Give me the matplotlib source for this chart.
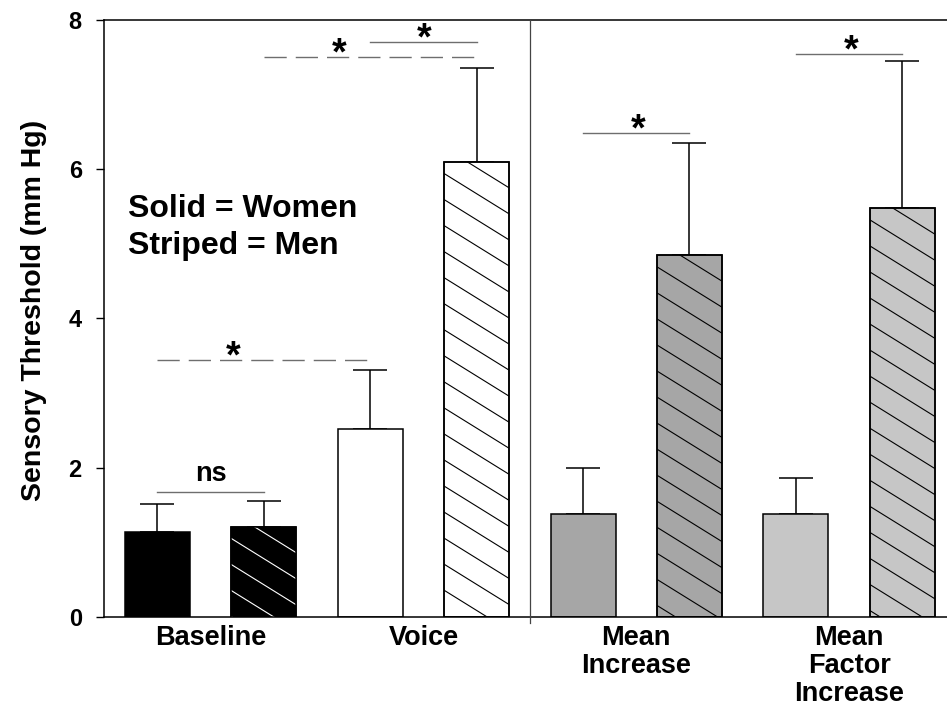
import numpy as np
import matplotlib
matplotlib.use("Agg")
import matplotlib.pyplot as plt

plt.rcParams["font.family"] = ["Liberation Sans", "DejaVu Sans"]

groups = ["Baseline", "Voice", "Mean\nIncrease", "Mean\nFactor\nIncrease"]
women_mean = [1.14, 2.52, 1.38, 1.38]
women_top = [1.51, 3.31, 2.00, 1.86]   # top of error bar
men_mean = [1.21, 6.10, 4.85, 5.48]
men_top = [1.56, 7.36, 6.35, 7.45]

women_colors = ["black", "white", "#a6a6a6", "#c6c6c6"]
men_colors = ["black", "white", "#a6a6a6", "#c6c6c6"]
hatch_colors = ["white", "black", "black", "black"]

# significance brackets: (bar from, bar to, y, label, label x, dashed)
brackets = [
    (0, 1, 1.68, "ns", 0.5, False),
    (0, 2, 3.44, "*", 0.71, True),
    (1, 3, 7.50, "*", 1.71, True),
    (2, 3, 7.71, "*", 2.51, False),
    (4, 5, 6.48, "*", 4.52, False),
    (6, 7, 7.54, "*", 6.52, False),
]


def add_hatch(ax, bar, color, spacing=0.349, slope=-0.885):
    x0, y0 = bar.get_x(), bar.get_y()
    w, h = bar.get_width(), bar.get_height()
    for c in np.arange(y0 + h + abs(slope) * w, y0 - spacing, -spacing):
        ln, = ax.plot([x0, x0 + w], [c, c + slope * w], color=color, lw=0.8,
                      zorder=3)
        ln.set_clip_path(bar)


fig = plt.figure(figsize=(9.47, 7.11), dpi=100)
ax = fig.add_axes([0.1098, 0.1322, 0.8902, 0.8397])

width = 0.61
xw = np.arange(len(groups)) * 2
xm = xw + 1

wb = ax.bar(xw, women_mean, width, color=women_colors, edgecolor="black",
            linewidth=1.1, zorder=2)
mb = ax.bar(xm, men_mean, width, color=men_colors, edgecolor="black",
            linewidth=1.1, zorder=2)
for bar, hc in zip(mb, hatch_colors):
    add_hatch(ax, bar, hc)
# redraw edges on top of hatching
for bar in list(mb):
    ax.add_patch(plt.Rectangle((bar.get_x(), 0), bar.get_width(), bar.get_height(),
                               fill=False, edgecolor="black", linewidth=1.1, zorder=4))

w_err = np.array(women_top) - np.array(women_mean)
m_err = np.array(men_top) - np.array(men_mean)
ax.errorbar(xw, women_mean, yerr=[np.zeros(len(xw)), w_err], fmt="none",
            ecolor="black", elinewidth=1.1, capsize=12, capthick=1.1, zorder=1)
ax.errorbar(xm, men_mean, yerr=[np.zeros(len(xm)), m_err], fmt="none",
            ecolor="black", elinewidth=1.1, capsize=12, capthick=1.1, zorder=1)

# brackets
for a, b, y, lab, lx, dashed in brackets:
    ls = (0, (16, 6.5)) if dashed else "-"
    ax.plot([a, b], [y, y], color="#6e6e6e", lw=1.0, linestyle=ls, zorder=5)
    if lab == "ns":
        ax.text(lx, y + 0.06, lab, ha="center", va="bottom",
                fontsize=19.5, fontweight="bold")
    else:
        ax.text(lx, y - 0.10, lab, ha="center", va="baseline",
                fontsize=27, fontweight="bold")

# divider between raw and derived values
ax.plot([3.5, 3.5], [-0.08, 8], color="#444444", lw=0.9, clip_on=False, zorder=5)

ax.text(-0.28, 5.36, "Solid = Women", fontsize=23, fontweight="bold",
        ha="left", va="baseline")
ax.text(-0.28, 4.86, "Striped = Men", fontsize=23, fontweight="bold",
        ha="left", va="baseline")

ax.set_xlim(-0.502, 7.42)
ax.set_ylim(0, 8)
ax.set_yticks([0, 2, 4, 6, 8])
ax.set_xticks(xw + 0.5)
ax.set_xticklabels(groups, fontsize=19.5, fontweight="bold", linespacing=1.08)
ax.tick_params(axis="x", length=0, pad=6)
ax.tick_params(axis="y", direction="out", length=6, width=1, pad=10,
               labelsize=17)
for t in ax.get_yticklabels():
    t.set_fontweight("bold")

ax.set_ylabel("Sensory Threshold (mm Hg)", fontsize=20.5, fontweight="bold")
ax.yaxis.set_label_coords(-0.068, 0.514)

ax.spines["right"].set_visible(False)
for s in ["left", "bottom", "top"]:
    ax.spines[s].set_linewidth(1.1)

fig.savefig("out.png", dpi=100)
